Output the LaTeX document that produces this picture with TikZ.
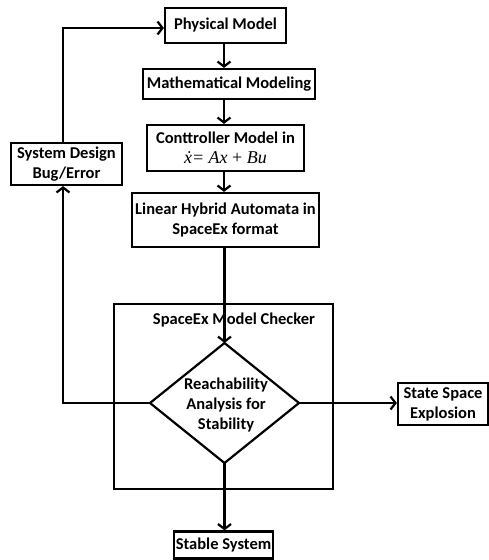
\documentclass[tikz,border=0pt]{standalone}
\usepackage{fontspec}
\setmainfont{Carlito}
\newfontfamily\mathserif{Liberation Serif}
\usetikzlibrary{arrows.meta,calc}
\begin{document}
\begin{tikzpicture}[x=1pt,y=-1pt,
  line width=2.2pt,
  box/.style={draw,rectangle,inner sep=0pt,align=center,font=\bfseries\fontsize{16.5}{20}\selectfont},
  lbl/.style={inner sep=0pt,align=center,font=\bfseries\fontsize{16.5}{20}\selectfont},
  arr/.style={-{Straight Barb[length=5pt,width=13pt,line width=2.2pt]}}]
\useasboundingbox (0,0) rectangle (489,560);
\node[box,minimum width=121pt,minimum height=35pt] (phys) at (225.5,25.5) {Physical Model};
\node[box,minimum width=172pt,minimum height=30pt] (math) at (229,84) {Mathematical Modeling};
\node[box,minimum width=157pt,minimum height=46pt] (ctrl) at (225.5,148) {Conttroller Model in\\{\mathserif\mdseries\itshape\fontsize{18}{18}\selectfont ẋ= Ax \upshape+\itshape\ Bu}};
\node[box,minimum width=187pt,minimum height=54pt] (lha) at (225.5,220) {Linear Hybrid Automata in\\SpaceEx format};
\node[box,minimum width=111pt,minimum height=42pt] (sdb) at (66.5,164) {System Design\\Bug/Error};
\draw (114,304) rectangle (333,489);
\node[lbl] (title) at (234,320) {SpaceEx Model Checker};
\coordinate (dT) at (224.5,343);
\coordinate (dL) at (150,403);
\coordinate (dR) at (299,403);
\coordinate (dB) at (224.5,463);
\draw (dT) -- (dR) -- (dB) -- (dL) -- cycle;
\node[lbl] (reach) at (226,405) {Reachability\\Analysis for\\Stability};
\node[box,minimum width=90pt,minimum height=42pt] (sse) at (443,404) {State Space\\Explosion};
\node[box,minimum width=99pt,minimum height=27pt] (stable) at (223.5,545) {Stable System};
\coordinate (ax) at (224,0);
\draw[arr] (phys.south -| ax) -- (math.north -| ax);
\draw[arr] (math.south -| ax) -- (ctrl.north -| ax);
\draw[arr] (ctrl.south -| ax) -- (lha.north -| ax);
\draw[arr] (lha.south -| dT) -- (dT);
\draw[arr] (dR) -- (sse.west |- dR);
\draw[arr] (dB) -- (stable.north -| dB);
\coordinate (lb) at (63,403);
\coordinate (lt) at (63,28);
\draw[arr] (dL) -- (lb) -- (lb |- sdb.south);
\draw[arr] (lt |- sdb.north) -- (lt) -- (lt -| phys.west);
\end{tikzpicture}
\end{document}
